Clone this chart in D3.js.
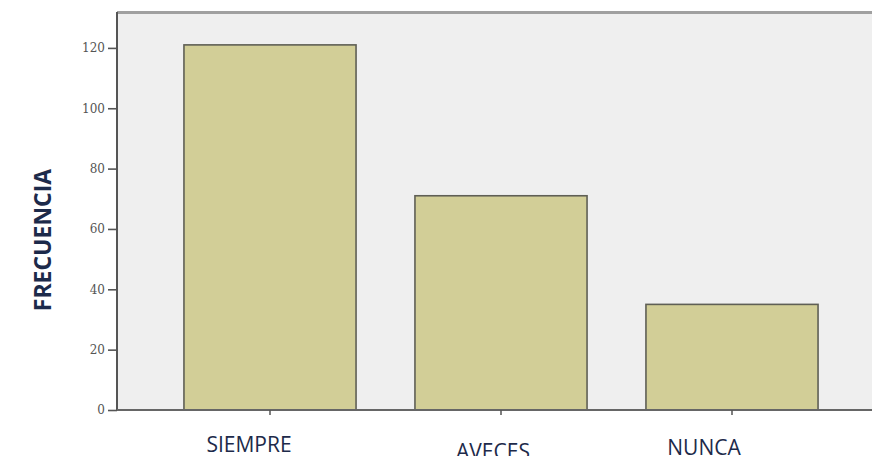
<!DOCTYPE html>
<html><head><meta charset="utf-8">
<script src="https://cdn.jsdelivr.net/npm/d3@7"></script>
<style>html,body{margin:0;padding:0;background:#fff;}svg{display:block;}</style>
</head><body>
<svg id="c" width="872" height="456"></svg>
<script>
const categories = ["SIEMPRE", "AVECES", "NUNCA"];
const values = [121, 71, 35];
const yTicks = [0, 20, 40, 60, 80, 100, 120];
const yTitle = "FRECUENCIA";

const svg = d3.select("#c");
const plot = {left: 117, top: 12, right: 874, bottom: 410};
const y = d3.scaleLinear().domain([0, 131.9]).range([plot.bottom, plot.top]);
const x = d3.scaleBand().domain(categories).range([154.5, 847.5]).paddingInner(0.255).paddingOuter(0.1275);

svg.append("rect").attr("x", plot.left).attr("y", plot.top)
  .attr("width", plot.right - plot.left).attr("height", plot.bottom - plot.top)
  .attr("fill", "#efefef");
// top border
svg.append("line").attr("x1", plot.left).attr("x2", 872).attr("y1", plot.top + 0.5).attr("y2", plot.top + 0.5)
  .attr("stroke", "#a0a0a0").attr("stroke-width", 3);

svg.append("g").selectAll("rect").data(categories).join("rect")
  .attr("x", d => x(d)).attr("width", x.bandwidth())
  .attr("y", (d, i) => y(values[i])).attr("height", (d, i) => y(0) - y(values[i]))
  .attr("fill", "#d2ce97").attr("stroke", "#5f5f55").attr("stroke-width", 1.6);

// y axis
const ya = svg.append("g").attr("transform", `translate(${plot.left},0)`)
  .call(d3.axisLeft(y).tickValues(yTicks).tickSize(9).tickPadding(3));
ya.select(".domain").attr("stroke", "#555").attr("stroke-width", 2).attr("d", `M0,${plot.top}V${plot.bottom}`);
ya.selectAll(".tick line").attr("stroke", "#555").attr("stroke-width", 1.6);
ya.selectAll(".tick text").attr("font-family", "DejaVu Serif").attr("font-size", 12).attr("fill", "#555");

// x axis
const xa = svg.append("g").attr("transform", `translate(0,${plot.bottom})`)
  .call(d3.axisBottom(x).tickSize(5).tickFormat(""));
xa.select(".domain").attr("stroke", "#666").attr("stroke-width", 2).attr("d", `M${plot.left},0H872`);
xa.selectAll(".tick line").attr("stroke", "#555").attr("stroke-width", 1.5);

// category labels
const labelPos = [{dx: -21, y: 452}, {dx: -8, y: 459}, {dx: -28, y: 455}];
svg.append("g").selectAll("text").data(categories).join("text")
  .attr("x", (d, i) => x(d) + x.bandwidth() / 2 + labelPos[i].dx)
  .attr("y", (d, i) => labelPos[i].y)
  .attr("text-anchor", "middle")
  .attr("font-family", "Open Sans").attr("font-size", 21).attr("fill", "#1d2a4a")
  .text(d => d);

svg.append("text")
  .attr("transform", "translate(51,240) rotate(-90)")
  .attr("text-anchor", "middle")
  .attr("font-family", "Open Sans").attr("font-weight", "bold").attr("font-size", 23).attr("fill", "#1d2a4a")
  .text(yTitle);
</script>
</body></html>
